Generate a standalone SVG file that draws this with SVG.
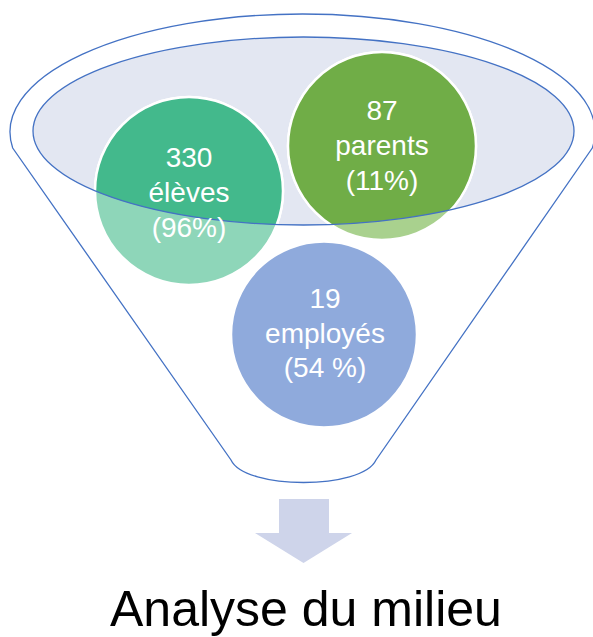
<svg xmlns="http://www.w3.org/2000/svg" width="593" height="637" viewBox="0 0 593 637">
  <defs>
    <clipPath id="innerClip">
      <ellipse cx="303.5" cy="131" rx="270.5" ry="94"/>
    </clipPath>
    <style>
      .funnel { fill: #FFFFFF; stroke: #4472C4; stroke-width: 1.3; }
      .rim { fill: none; stroke: #4472C4; stroke-width: 1.3; }
      .circ { stroke: #FFFFFF; stroke-width: 2.5; }
      .lbl { font-family: "Liberation Sans", Arial, sans-serif; font-size: 28px; fill: #FFFFFF; text-anchor: middle; }
      .title { font-family: "Liberation Sans", Arial, sans-serif; font-size: 50px; fill: #000000; }
    </style>
  </defs>
  <rect x="0" y="0" width="593" height="637" fill="#FFFFFF"/>

  <g id="funnel">
    <path class="funnel" d="M 12.7 148 A 292.5 118 0 1 1 592.3 148 L 376 460 C 362 490 245 490 231 460 Z"/>
    <ellipse cx="303.5" cy="131" rx="270.5" ry="94" fill="#E3E7F2"/>
  </g>

  <g id="node-eleves">
    <circle class="circ" cx="189" cy="191" r="94" fill="#8ED6B9"/>
    <circle class="circ" cx="189" cy="191" r="94" fill="#43B98C" clip-path="url(#innerClip)"/>
  </g>
  <g id="node-parents">
    <circle class="circ" cx="382" cy="146" r="94" fill="#A9D18E"/>
    <circle class="circ" cx="382" cy="146" r="94" fill="#70AD47" clip-path="url(#innerClip)"/>
  </g>
  <g id="node-employes">
    <circle class="circ" cx="324" cy="334.5" r="93" fill="#8FAADC"/>
  </g>

  <g id="rim">
    <ellipse class="rim" cx="303.5" cy="131" rx="270.5" ry="94"/>
  </g>

  <g id="labels">
    <text class="lbl" x="189" y="167">330</text>
    <text class="lbl" x="189" y="202">élèves</text>
    <text class="lbl" x="189" y="237">(96%)</text>
    <text class="lbl" x="382" y="120">87</text>
    <text class="lbl" x="382" y="155">parents</text>
    <text class="lbl" x="382" y="190">(11%)</text>
    <text class="lbl" x="325" y="308">19</text>
    <text class="lbl" x="325" y="343">employés</text>
    <text class="lbl" x="325" y="377">(54 %)</text>
  </g>

  <g id="connectors">
    <polygon points="279,499 329,499 329,533 352,533 303.5,563 255,533 279,533" fill="#CED4EA"/>
  </g>

  <g id="node-title">
    <text class="title" x="110" y="626">Analyse du milieu</text>
  </g>
</svg>
